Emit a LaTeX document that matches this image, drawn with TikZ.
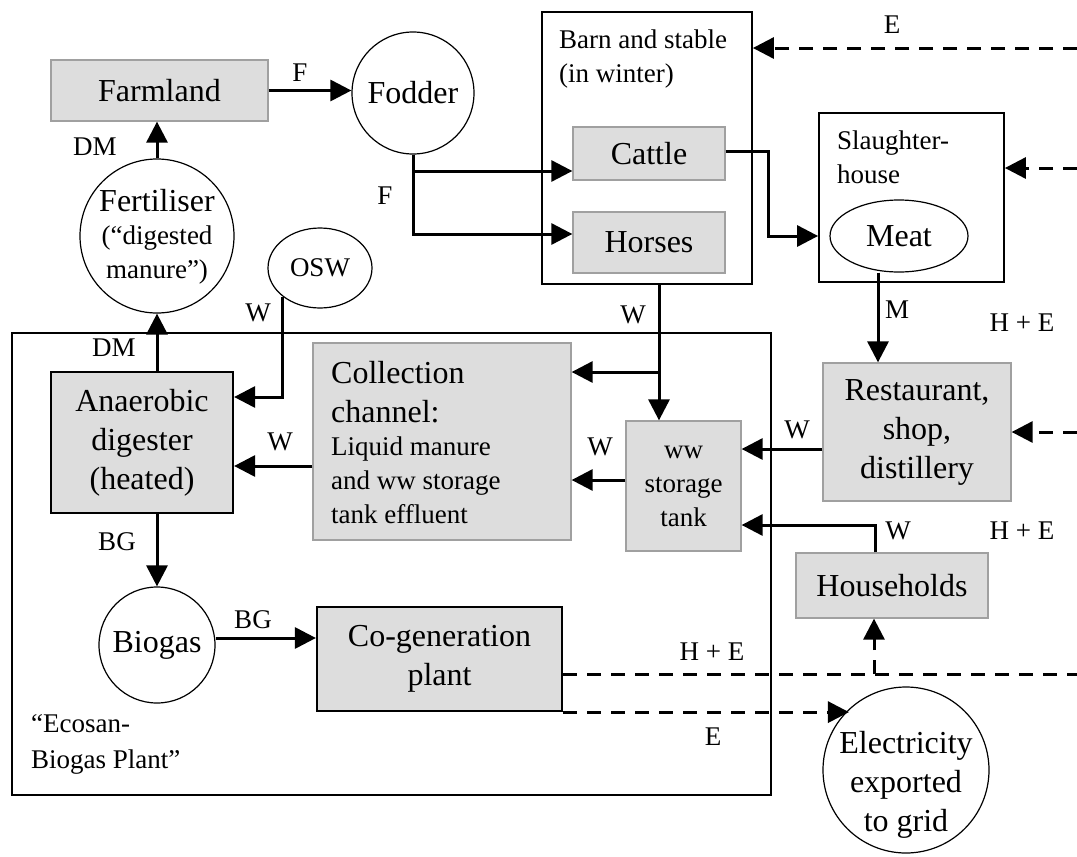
\documentclass[tikz,border=0pt]{standalone}
\usepackage{fontspec}
\setmainfont{Liberation Serif}
\usetikzlibrary{arrows.meta,shapes.geometric,calc}
\definecolor{boxfill}{RGB}{221,221,221}
\definecolor{boxline}{RGB}{160,160,160}
\begin{document}
\begin{tikzpicture}[x=1pt,y=-1pt,
  big/.style={font=\fontsize{32}{39}\selectfont},
  sm/.style={font=\fontsize{27}{34}\selectfont},
  lbl/.style={sm,inner sep=0pt},
  graybox/.style={draw=boxline,fill=boxfill,line width=1.3pt,inner sep=0pt,big},
  darkbox/.style={draw=black,fill=boxfill,line width=2.2pt,inner sep=0pt,big},
  frame/.style={draw=black,line width=1.8pt,inner sep=0pt},
  roundnode/.style={draw=black,line width=1.2pt,circle,inner sep=0pt,big},
  ovalnode/.style={draw=black,line width=1.2pt,ellipse,inner sep=0pt},
  arr/.style={line width=3pt,-{Triangle[length=21pt,width=21pt]}},
  dashline/.style={line width=3pt,dash pattern=on 14pt off 10pt},
  darr/.style={arr,dash pattern=on 14pt off 10pt},
  txt/.style={inner sep=0pt}]
\useasboundingbox (0,0) rectangle (1077,857);

% frames
\node[frame,minimum width=759pt,minimum height=462pt] (ecosan) at (391.5,564) {};
\node[frame,minimum width=210pt,minimum height=272pt] (barn) at (647,148) {};
\node[frame,minimum width=185pt,minimum height=169pt] (slaughter) at (911.5,197.5) {};

% boxes
\node[graybox,minimum width=217pt,minimum height=61pt] (farmland) at (159.5,90.5) {Farmland};
\node[graybox,minimum width=152pt,minimum height=53pt] (cattle) at (649,153.5) {Cattle};
\node[graybox,minimum width=152pt,minimum height=61pt] (horses) at (649,242.5) {Horses};
\node[darkbox,minimum width=182pt,minimum height=141pt,align=center] (digester) at (142,442.5) {Anaerobic\\digester\\(heated)};
\node[graybox,minimum width=258pt,minimum height=197pt] (collect) at (442,441.5) {};
\node[graybox,sm,minimum width=115pt,minimum height=130pt,align=center] (tank) at (683.5,486) {ww\\storage\\tank};
\node[graybox,minimum width=188pt,minimum height=138pt,align=center] (rest) at (917,432) {Restaurant,\\shop,\\distillery};
\node[graybox,minimum width=192pt,minimum height=65pt] (hh) at (892,585.5) {Households};
\node[darkbox,minimum width=245pt,minimum height=104pt,align=center] (cogen) at (439.5,659) {Co-generation\\plant};

% round nodes
\node[roundnode,minimum size=122pt] (fodder) at (413,93) {Fodder};
\node[roundnode,minimum size=154pt] (fert) at (157,236) {};
\node[roundnode,minimum size=116pt] (biogas) at (157,645) {Biogas};
\node[roundnode,minimum size=166pt] (elec) at (906,770) {};
\node[ovalnode,sm,minimum width=104pt,minimum height=80pt] (osw) at (320,268) {OSW};
\node[ovalnode,big,minimum width=138pt,minimum height=72pt] (meat) at (899,236) {Meat};

% texts
\node[txt,big] (fertA) at (157,201) {Fertiliser};
\node[txt,sm,align=center] (fertB) at (157,255.5) {(“digested\\manure”)};
\node[txt,big,align=center] (elecT) at (906,784.5) {Electricity\\exported\\to grid};
\node[txt,big,align=left,anchor=west] (collA) at (331,392) {Collection\\channel:};
\node[txt,sm,align=left,anchor=west] (collB) at (331,480) {Liquid manure\\and ww storage\\tank effluent};
\node[txt,sm,align=left,anchor=west] (barnT) at (559,59) {Barn and stable\\(in winter)};
\node[txt,sm,align=left,anchor=west] (slT) at (837,157) {Slaughter-\\house};
\node[txt,sm,align=left,anchor=west,font=\fontsize{27}{36}\selectfont] (ecoT) at (31,744) {“Ecosan-\\Biogas Plant”};

% edge coordinates
\coordinate (eB) at (1077,48);
\coordinate (eS) at (1077,168);
\coordinate (eR) at (1077,432);
\coordinate (eC) at (1077,674);
\coordinate (wtop) at ([xshift=12pt]barn.south);
\coordinate (cin) at ([yshift=69.5pt]collect.east);

% solid connectors
\draw[arr] (farmland.east) -- (farmland.east -| fodder.west);
\draw[arr] (fert.north) -- (fert.north |- farmland.south);
\draw[arr] (fodder.south) |- ([yshift=-17.5pt]cattle.west);
\draw[arr] (fodder.south) |- ([yshift=8.5pt]horses.west);
\draw[arr] ([yshift=2.5pt]cattle.east) -- ++(43,0) |- (slaughter.west |- meat);
\draw[arr] (wtop) -- (wtop |- tank.north);
\draw[arr] (cin -| wtop) -- (cin);
\draw[arr] ([yshift=6pt]tank.west) -- ([yshift=6pt]tank.west -| collect.east);
\draw[arr] ([yshift=-17pt]rest.west) -- ([yshift=-17pt]rest.west -| tank.east);
\draw[arr] ([xshift=-17pt]hh.north) |- ([yshift=-39pt]tank.east);
\draw[arr] ([xshift=-21pt]meat.south) -- ([xshift=-21pt]meat.south |- rest.north);
\draw[arr] ([yshift=-24.5pt]collect.west) -- ([yshift=-24.5pt]collect.west -| digester.east);
\draw[arr] (osw.south west) |- ([yshift=45.5pt]digester.east);
\draw[arr] (digester.north -| fert.south) -- (fert.south);
\draw[arr] (digester.south -| biogas.north) -- (biogas.north);
\draw[arr] ([yshift=7pt]biogas.east) -- ([yshift=7pt]biogas.east -| cogen.west);

% dashed connectors
\draw[darr] (eB) -- (eB -| barn.east);
\draw[darr] (eS) -- (eS -| slaughter.east);
\draw[darr] (eR) -- (eR -| rest.east);
\draw[dashline] (eC -| cogen.east) -- (eC);
\draw[darr] ([xshift=-18pt]hh.south |- eC) -- ([xshift=-18pt]hh.south);
\draw[darr] (cogen.south east) -- (cogen.south east -| elec.133);

% labels
\node[lbl] (lF1) at (300,73) {F};
\node[lbl] (lF2) at (385,196) {F};
\node[lbl] (lDM1) at (95,147) {DM};
\node[lbl] (lW1) at (258,313) {W};
\node[lbl] (lDM2) at (114,348) {DM};
\node[lbl] (lW2) at (280,442) {W};
\node[lbl] (lBG1) at (117,542) {BG};
\node[lbl] (lBG2) at (253,620) {BG};
\node[lbl] (lW3) at (633,315) {W};
\node[lbl] (lM) at (897,310) {M};
\node[lbl] (lHE1) at (1022,323) {H + E};
\node[lbl] (lW4) at (600,447) {W};
\node[lbl] (lW5) at (797,430) {W};
\node[lbl] (lW6) at (898,531) {W};
\node[lbl] (lHE2) at (1022,531) {H + E};
\node[lbl] (lE1) at (892,25) {E};
\node[lbl] (lHE3) at (712,652) {H + E};
\node[lbl] (lE2) at (713,737) {E};
\end{tikzpicture}
\end{document}
